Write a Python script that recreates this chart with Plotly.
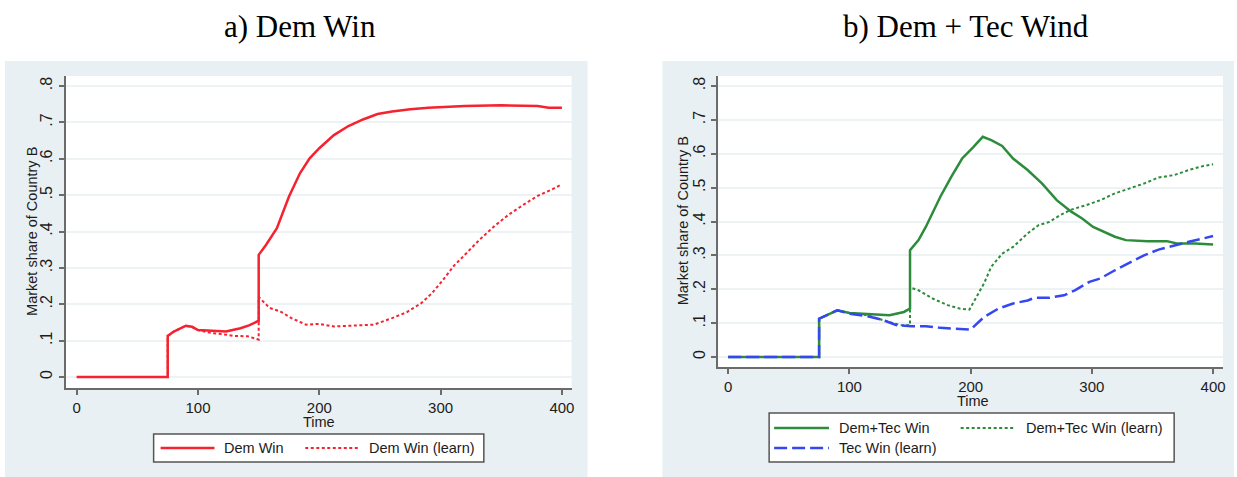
import plotly.graph_objects as go

# ---------------- data ----------------
# Panel a) Dem Win
t_dem = [0, 75, 75, 80, 90, 95, 100, 110, 123, 135, 142, 149, 150, 150, 156, 165, 175, 184, 192, 200,
         212, 224, 236, 248, 260, 275, 290, 320, 350, 380, 389, 400]
v_dem = [0, 0, 0.113, 0.125, 0.141, 0.138, 0.129, 0.128, 0.125, 0.134, 0.142, 0.153, 0.153, 0.336, 0.363,
         0.409, 0.496, 0.560, 0.601, 0.629, 0.665, 0.690, 0.708, 0.723, 0.730, 0.736, 0.740, 0.745, 0.747,
         0.745, 0.740, 0.740]

t_dem_learn = [0, 75, 75, 80, 90, 95, 100, 111, 120, 129, 141, 149, 150, 150, 159, 168, 177, 189, 200, 212,
               230, 245, 260, 272, 284, 293, 302, 311, 320, 332, 344, 356, 368, 380, 392, 400]
v_dem_learn = [0, 0, 0.113, 0.125, 0.141, 0.138, 0.129, 0.121, 0.118, 0.113, 0.112, 0.103, 0.103, 0.220,
               0.190, 0.180, 0.162, 0.144, 0.146, 0.139, 0.141, 0.144, 0.162, 0.178, 0.203, 0.231, 0.267,
               0.306, 0.336, 0.377, 0.414, 0.446, 0.473, 0.498, 0.516, 0.530]

# Panel b) Dem + Tec Wind
t_dt = [0, 75, 75, 90, 100, 115, 133, 145, 150, 150, 157, 163, 169, 175, 184, 193, 202, 210, 217, 226, 235,
        247, 259, 271, 283, 292, 301, 310, 319, 328, 346, 362, 370, 385, 400]
v_dt = [0, 0, 0.113, 0.138, 0.130, 0.126, 0.123, 0.133, 0.143, 0.315, 0.345, 0.384, 0.429, 0.473, 0.532,
        0.586, 0.619, 0.650, 0.640, 0.623, 0.586, 0.552, 0.512, 0.463, 0.429, 0.409, 0.384, 0.369, 0.355,
        0.345, 0.342, 0.342, 0.335, 0.335, 0.332]

t_dt_learn = [0, 75, 75, 90, 100, 115, 133, 142, 150, 150, 157, 169, 181, 191, 199, 205, 211, 217, 226, 235,
              247, 256, 265, 274, 283, 295, 307, 319, 331, 343, 355, 368, 380, 392, 400]
v_dt_learn = [0, 0, 0.113, 0.138, 0.130, 0.123, 0.103, 0.094, 0.094, 0.205, 0.197, 0.172, 0.153, 0.143,
              0.140, 0.177, 0.217, 0.266, 0.305, 0.325, 0.365, 0.389, 0.399, 0.419, 0.435, 0.448, 0.463,
              0.483, 0.498, 0.512, 0.530, 0.537, 0.552, 0.564, 0.569]

t_tec = [0, 75, 75, 90, 100, 115, 127, 139, 151, 163, 175, 187, 200, 211, 223, 235, 247, 253, 265, 277, 286,
         298, 307, 319, 331, 343, 355, 368, 380, 392, 400]
v_tec = [0, 0, 0.113, 0.138, 0.128, 0.120, 0.110, 0.094, 0.091, 0.091, 0.086, 0.084, 0.081, 0.118, 0.143,
         0.158, 0.167, 0.175, 0.175, 0.182, 0.197, 0.222, 0.232, 0.256, 0.278, 0.300, 0.317, 0.330, 0.340,
         0.350, 0.357]

x_ticks = [0, 100, 200, 300, 400]
y_ticks = [0, 0.1, 0.2, 0.3, 0.4, 0.5, 0.6, 0.7, 0.8]
y_ticktext = ["0", ".1", ".2", ".3", ".4", ".5", ".6", ".7", ".8"]

titles = ["a) Dem Win", "b) Dem + Tec Wind"]
y_title = "Market share of Country B"
x_title = "Time"

RED = "#f5222f"
GREEN = "#2c8c3c"
BLUE = "#3447f2"
PANEL_BG = "#e9f0f3"
GRID = "#edf2f4"
AXIS = "#6b6b6b"
TXT = "#1c1c1c"
SANS = "Liberation Sans, Arial, sans-serif"
SERIF = "Liberation Serif, Times New Roman, serif"

W, H = 1237, 477


def px(x):
    return x / W


def py(y):
    return 1 - y / H


fig = go.Figure()

fig.add_trace(go.Scatter(x=t_dem, y=v_dem, mode="lines", name="Dem Win",
                         line=dict(color=RED, width=2.5), xaxis="x", yaxis="y"))
fig.add_trace(go.Scatter(x=t_dem_learn, y=v_dem_learn, mode="lines", name="Dem Win (learn)",
                         line=dict(color=RED, width=2, dash="3px,2.5px"), xaxis="x", yaxis="y"))
fig.add_trace(go.Scatter(x=t_dt, y=v_dt, mode="lines", name="Dem+Tec Win",
                         line=dict(color=GREEN, width=2.5), xaxis="x2", yaxis="y2"))
fig.add_trace(go.Scatter(x=t_dt_learn, y=v_dt_learn, mode="lines", name="Dem+Tec Win (learn)",
                         line=dict(color=GREEN, width=2, dash="3px,2.5px"), xaxis="x2", yaxis="y2"))
fig.add_trace(go.Scatter(x=t_tec, y=v_tec, mode="lines", name="Tec Win (learn)",
                         line=dict(color=BLUE, width=2.5, dash="13px,5px"), xaxis="x2", yaxis="y2"))

common_x = dict(tickvals=x_ticks, ticks="outside", ticklen=5, tickwidth=1.5, tickcolor=AXIS,
                showline=True, linecolor=AXIS, linewidth=2, showgrid=False, zeroline=False,
                tickfont=dict(family=SANS, size=15, color=TXT))
common_y = dict(tickvals=y_ticks, ticktext=y_ticktext, tickangle=-90, ticks="outside", ticklen=5,
                tickwidth=1.5, tickcolor=AXIS, showline=True, linecolor=AXIS, linewidth=2,
                showgrid=True, gridcolor=GRID, gridwidth=2, zeroline=False,
                tickfont=dict(family=SANS, size=16, color=TXT))

fig.update_layout(
    width=W, height=H, margin=dict(l=0, r=0, t=0, b=0),
    paper_bgcolor="white", plot_bgcolor="rgba(0,0,0,0)", showlegend=False,
    xaxis=dict(domain=[px(66), px(573)], range=[-9, 408], anchor="y", **common_x),
    yaxis=dict(domain=[py(388), py(76)], range=[-0.0302, 0.8275], anchor="x", **common_y),
    xaxis2=dict(domain=[px(720), px(1226)], range=[-8.2, 408.2], anchor="y2", **common_x),
    yaxis2=dict(domain=[py(367), py(76)], range=[-0.0295, 0.8295], anchor="x2", **common_y),
)

shapes = []
# panel backgrounds
shapes.append(dict(type="rect", xref="paper", yref="paper", x0=px(5), x1=px(589), y0=py(477), y1=py(61),
                   fillcolor=PANEL_BG, line=dict(width=0), layer="below"))
shapes.append(dict(type="rect", xref="paper", yref="paper", x0=px(664), x1=px(1237), y0=py(477), y1=py(61),
                   fillcolor=PANEL_BG, line=dict(width=0), layer="below"))
# white plot regions
shapes.append(dict(type="rect", xref="paper", yref="paper", x0=px(66), x1=px(573), y0=py(388), y1=py(76),
                   fillcolor="white", line=dict(width=0), layer="below"))
shapes.append(dict(type="rect", xref="paper", yref="paper", x0=px(720), x1=px(1226), y0=py(367), y1=py(76),
                   fillcolor="white", line=dict(width=0), layer="below"))
# legend boxes
shapes.append(dict(type="rect", xref="paper", yref="paper", x0=px(154), x1=px(485), y0=py(462), y1=py(434),
                   fillcolor="white", line=dict(color="#555555", width=1.5), layer="above"))
shapes.append(dict(type="rect", xref="paper", yref="paper", x0=px(771), x1=px(1177), y0=py(462), y1=py(413),
                   fillcolor="white", line=dict(color="#555555", width=1.5), layer="above"))


def legend_line(x0, x1, y, color, width, dash):
    shapes.append(dict(type="line", xref="paper", yref="paper", x0=px(x0), x1=px(x1), y0=py(y), y1=py(y),
                       line=dict(color=color, width=width, dash=dash), layer="above"))


legend_line(161, 215, 448, RED, 2.5, "solid")
legend_line(306, 360, 448, RED, 2, "3px,2.5px")
legend_line(776, 831, 428, GREEN, 2.5, "solid")
legend_line(963, 1018, 428, GREEN, 2, "3px,2.5px")
legend_line(776, 831, 448, BLUE, 2.5, "13px,5px")

fig.update_layout(shapes=shapes)

ann = []


def text(x, y, s, size=14.5, anchor="left", angle=0, family=SANS, color=TXT):
    ann.append(dict(xref="paper", yref="paper", x=px(x), y=py(y), text=s, showarrow=False,
                    xanchor=anchor, yanchor="middle", textangle=angle,
                    font=dict(family=family, size=size, color=color)))


text(301, 27, titles[0], size=31, anchor="center", family=SERIF, color="black")
text(968, 27, titles[1], size=31, anchor="center", family=SERIF, color="black")
text(32, 231, y_title, size=14.5, anchor="center", angle=-90)
text(685, 221, y_title, size=14.5, anchor="center", angle=-90)
text(320, 422, x_title, size=14.5, anchor="center")
text(975, 401, x_title, size=14.5, anchor="center")
text(223, 448, "Dem Win")
text(368, 448, "Dem Win (learn)")
text(839, 428, "Dem+Tec Win")
text(1026, 428, "Dem+Tec Win (learn)")
text(839, 448, "Tec Win (learn)")

fig.update_layout(annotations=ann)

fig.write_html("out.html",
               config={"displayModeBar": False},
               post_script="document.body.style.margin='0px';document.body.style.overflow='hidden';")
